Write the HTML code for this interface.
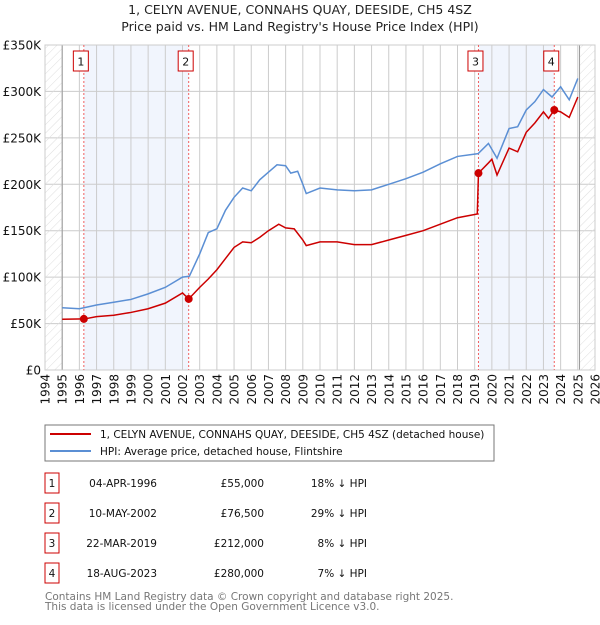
<!DOCTYPE html>
<html><head><meta charset="utf-8"><style>
body{margin:0;background:#fff;font-family:"Liberation Sans","DejaVu Sans",sans-serif;}
svg text{font-family:"DejaVu Sans","Liberation Sans",sans-serif;}
</style></head><body>
<svg id="c" width="600" height="620" viewBox="0 0 600 620" xmlns="http://www.w3.org/2000/svg">
<defs><pattern id="hatch" width="6" height="6" patternUnits="userSpaceOnUse" patternTransform="rotate(45)"><line x1="0" y1="0" x2="0" y2="6" stroke="#dedede" stroke-width="1"/></pattern></defs>
<text x="300" y="14" text-anchor="middle" font-size="12.5" fill="#222">1, CELYN AVENUE, CONNAHS QUAY, DEESIDE, CH5 4SZ</text>
<text x="300" y="31" text-anchor="middle" font-size="12.5" fill="#222">Price paid vs. HM Land Registry's House Price Index (HPI)</text>
<g id="plot"></g>
<rect x="45" y="425" width="449" height="36" fill="#fff" stroke="#777"/>
<line x1="50" y1="434" x2="91" y2="434" stroke="#cc0000" stroke-width="2"/>
<text x="100" y="438" font-size="10.5" fill="#111">1, CELYN AVENUE, CONNAHS QUAY, DEESIDE, CH5 4SZ (detached house)</text>
<line x1="50" y1="451" x2="91" y2="451" stroke="#5b8fd4" stroke-width="2"/>
<text x="100" y="455" font-size="10.5" fill="#111">HPI: Average price, detached house, Flintshire</text>
<g id="table" font-size="10.5" fill="#111"></g>
<text x="45" y="600" font-size="10.5" fill="#777">Contains HM Land Registry data © Crown copyright and database right 2025.</text>
<text x="45" y="610" font-size="10.5" fill="#777">This data is licensed under the Open Government Licence v3.0.</text>
</svg>
<script>
const yearTicks=[1994,1995,1996,1997,1998,1999,2000,2001,2002,2003,2004,2005,2006,2007,2008,2009,2010,2011,2012,2013,2014,2015,2016,2017,2018,2019,2020,2021,2022,2023,2024,2025,2026];
const valueTicks=[0,50,100,150,200,250,300,350];
const valueTickLabels=["£0","£50K","£100K","£150K","£200K","£250K","£300K","£350K"];
const hpiYears=[1995,1996,1997,1998,1999,2000,2001,2002,2002.4,2003,2003.5,2004,2004.5,2005,2005.5,2006,2006.5,2007,2007.5,2008,2008.3,2008.7,2009,2009.2,2010,2011,2012,2013,2014,2015,2016,2017,2018,2019.2,2019.8,2020.3,2021,2021.5,2022,2022.5,2023,2023.5,2024,2024.5,2025];
const hpiValues=[67,66,70,73,76,82,89,100,101,125,148,152,172,186,196,193,205,213,221,220,212,214,200,190,196,194,193,194,200,206,213,222,230,233,244,228,260,262,280,289,302,294,305,291,314];
const priceYears=[1995,1996.3,1997,1998,1999,2000,2001,2002,2002.36,2003,2003.5,2004,2004.5,2005,2005.5,2006,2006.5,2007,2007.6,2008,2008.5,2009,2009.2,2010,2011,2012,2013,2014,2015,2016,2017,2018,2019.15,2019.22,2019.8,2020,2020.3,2021,2021.5,2022,2022.5,2023,2023.3,2023.63,2024,2024.5,2025];
const priceValues=[54.6,55,57.5,59,62,66,72,83,76.5,89,98,108,120,132,138,137,143,150,157,153,152,140,134,138,138,135,135,140,145,150,157,164,168,212,223,227,210,239,235,256,266,278,271,280,278,272,294];
const saleYears=[1996.26,2002.36,2019.22,2023.63];
const saleValues=[55,76.5,212,280];
const saleLabels=["1","2","3","4"];
const saleDates=["04-APR-1996","10-MAY-2002","22-MAR-2019","18-AUG-2023"];
const salePrices=["£55,000","£76,500","£212,000","£280,000"];
const saleDiffs=["18% ↓ HPI","29% ↓ HPI","8% ↓ HPI","7% ↓ HPI"];

const NS="http://www.w3.org/2000/svg";
const L=45,R=595,T=45,B=370;
const X=y=>L+(y-1994)/(2026-1994)*(R-L);
const Y=v=>B-v/350*(B-T);
const g=document.getElementById('plot');
function mk(tag,at,parent){const e=document.createElementNS(NS,tag);for(const k in at)e.setAttribute(k,at[k]);(parent||g).appendChild(e);return e;}
for(let i=0;i<saleYears.length;i+=2){
  const r=mk('rect',{x:X(saleYears[i]),y:T,width:X(saleYears[i+1])-X(saleYears[i]),height:B-T,fill:'#eef3fc',opacity:0.8});
  
  
}
yearTicks.forEach(yr=>{
  const l=mk('line',{x1:X(yr),x2:X(yr),y1:T,y2:B,stroke:'#ccc','stroke-width':1});
  
  
  const t=mk('text',{x:0,y:0,'font-size':12,fill:'#111','text-anchor':'end',transform:`translate(${X(yr)+4.5},374) rotate(-90)`});
  t.textContent=yr;
  
  
});
valueTicks.forEach((v,i)=>{
  const l=mk('line',{x1:L,x2:R,y1:Y(v),y2:Y(v),stroke:'#ccc','stroke-width':1});
  
  
  const t=mk('text',{x:41,y:Y(v)+4.5,'font-size':12,fill:'#111','text-anchor':'end'});
  t.textContent=valueTickLabels[i];
  
  
});
const h1=mk('rect',{x:L,y:T,width:X(1995)-L,height:B-T,fill:'url(#hatch)'});


const h2=mk('rect',{x:X(2025.1),y:T,width:R-X(2025.1),height:B-T,fill:'url(#hatch)'});


mk('line',{x1:X(1995),x2:X(1995),y1:T,y2:B,stroke:'#999'});
mk('line',{x1:X(2025.1),x2:X(2025.1),y1:T,y2:B,stroke:'#999'});
const fr=mk('rect',{x:L,y:T,width:R-L,height:B-T,fill:'none',stroke:'#ccc'});


saleYears.forEach((yr,i)=>{
  const l=mk('line',{x1:X(yr),x2:X(yr),y1:T,y2:B,stroke:'#f06060','stroke-dasharray':'2,2'});
  
  
  const bx=mk('rect',{x:X(yr)-10.5,y:51,width:15,height:20,fill:'#fff',stroke:'#cc0000'});
  
  
  const t=mk('text',{x:X(yr)-3,y:65.5,'font-size':11,'text-anchor':'middle',fill:'#111'});
  t.textContent=saleLabels[i];
  
  
});
const hp=mk('polyline',{points:hpiYears.map((y,i)=>X(y)+','+Y(hpiValues[i])).join(' '),fill:'none',stroke:'#5b8fd4','stroke-width':1.5});


const pp=mk('polyline',{points:priceYears.map((y,i)=>X(y)+','+Y(priceValues[i])).join(' '),fill:'none',stroke:'#cc0000','stroke-width':1.5});


saleYears.forEach((yr,i)=>{
  const c=mk('circle',{cx:X(yr),cy:Y(saleValues[i]),r:4,fill:'#cc0000'});
  
  
});
const tb=document.getElementById('table');
saleLabels.forEach((lab,i)=>{
  const y=483+i*30;
  const b=mk('rect',{x:45,y:y-10,width:14,height:20,fill:'none',stroke:'#cc0000'},tb);
  
  
  const cells=[[52,'middle',lab,'num'],[157,'end',saleDates[i],'date'],[264,'end',salePrices[i],'price'],[367,'end',saleDiffs[i],'diff']];
  cells.forEach(c=>{
    const t=mk('text',{x:c[0],y:y+4,'text-anchor':c[1]},tb);
    t.textContent=c[2];
    
    
  });
});
</script>
</body></html>
